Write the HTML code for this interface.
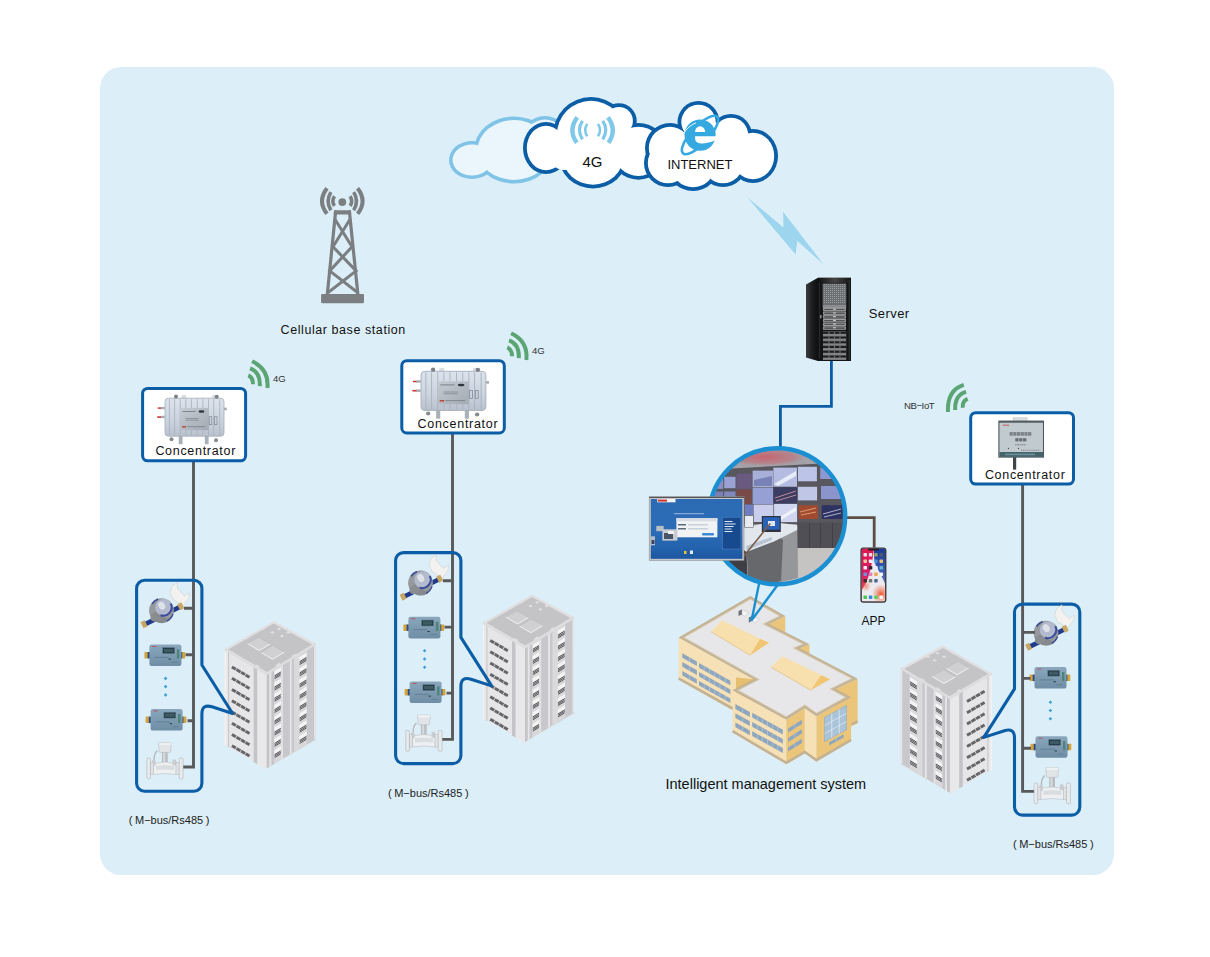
<!DOCTYPE html>
<html><head><meta charset="utf-8">
<style>
html,body{margin:0;padding:0;background:#fff;}
body{width:1210px;height:957px;overflow:hidden;position:relative;font-family:"Liberation Sans",sans-serif;}
svg{position:absolute;left:0;top:0;}
</style></head>
<body>
<svg width="1210" height="957" viewBox="0 0 1210 957" font-family="Liberation Sans, sans-serif">
<rect x="100" y="67" width="1014" height="808" rx="21" ry="21" fill="#DCEFF8"/>
<!-- light cloud -->
<g>
  <g fill="#7FC3E7">
    <ellipse cx="472" cy="160" rx="23" ry="19"/>
    <ellipse cx="514" cy="150" rx="40" ry="33.5"/>
    <ellipse cx="545" cy="141" rx="25" ry="25"/>
  </g>
  <g fill="#EAF6FC">
    <ellipse cx="472" cy="160" rx="19.4" ry="15.4"/>
    <ellipse cx="514" cy="150" rx="36.4" ry="29.9"/>
    <ellipse cx="545" cy="141" rx="21.4" ry="21.4"/>
  </g>
</g>
<!-- 4G cloud -->
<g>
  <g fill="#0B5DA6">
    <ellipse cx="546" cy="148" rx="23" ry="26"/>
    <circle cx="591" cy="135" r="38"/>
    <circle cx="619" cy="120.9" r="17.7"/>
    <circle cx="638.4" cy="151.3" r="28.4"/>
    <ellipse cx="593" cy="157" rx="34" ry="31.5"/>
    </g>
  <g fill="#FFFFFF">
    <ellipse cx="546" cy="148" rx="19.2" ry="22.2"/>
    <circle cx="591" cy="135" r="34.2"/>
    <circle cx="619" cy="120.9" r="13.9"/>
    <circle cx="638.4" cy="151.3" r="24.6"/>
    <ellipse cx="593" cy="157" rx="30.2" ry="27.7"/>
    <circle cx="615" cy="148" r="20"/>
    <circle cx="565" cy="152" r="18"/>
  </g>
  <g fill="none" stroke="#7FC8EA" stroke-linecap="butt">
    <path d="M577.3,117.3 Q567.7,130 576.8,142.7" stroke-width="4.4"/>
    <path d="M582.5,120.9 Q576.3,130 582.5,139.3" stroke-width="3.2"/>
    <path d="M587.3,123.9 Q583.1,130 587.3,136.4" stroke-width="2.5"/>
    <path d="M607.9,117.3 Q617.5,130 608.4,142.7" stroke-width="4.4"/>
    <path d="M602.7,120.9 Q608.9,130 602.7,139.3" stroke-width="3.2"/>
    <path d="M597.9,123.9 Q602.1,130 597.9,136.4" stroke-width="2.5"/>
  </g>
  <text x="592.5" y="167.4" font-size="15" text-anchor="middle" fill="#111">4G</text>
</g>
<!-- internet cloud -->
<g>
  <g fill="#0B5DA6">
    <circle cx="698.5" cy="122" r="21"/>
    <circle cx="731" cy="135" r="21"/>
    <ellipse cx="753" cy="156" rx="25" ry="27"/>
    <circle cx="670" cy="148" r="25"/>
    <circle cx="668" cy="163" r="24"/>
    <circle cx="693" cy="165" r="26"/>
    <circle cx="723" cy="163" r="24"/>
  </g>
  <g fill="#FFFFFF">
    <circle cx="698.5" cy="122" r="17.2"/>
    <circle cx="731" cy="135" r="17.2"/>
    <ellipse cx="753" cy="156" rx="21.2" ry="23.2"/>
    <circle cx="670" cy="148" r="21.2"/>
    <circle cx="668" cy="163" r="20.2"/>
    <circle cx="693" cy="165" r="22.2"/>
    <circle cx="723" cy="163" r="20.2"/>
    <circle cx="710" cy="150" r="28"/>
  </g>
  <!-- IE logo -->
  <ellipse cx="700" cy="135" rx="25" ry="8.5" transform="rotate(-47 700 135)" fill="none" stroke="#36A9E1" stroke-width="2.6"/>
  <circle cx="700.1" cy="135.1" r="15.6" fill="#36A9E1"/>
  <path d="M695,131.9 A5.1,5.6 0 0 1 705.2,131.9 Z" fill="#fff"/>
  <path d="M695.1,136.3 L716.5,136.3 L716.5,139.8 Q708,143.8 701,143.6 Q695.2,143 695.1,138.5 Z" fill="#fff"/>
  <path d="M683.5,133.6 Q688,126 696,122.8" fill="none" stroke="#fff" stroke-width="0.9"/>
  <text x="699.9" y="169.3" font-size="13" text-anchor="middle" fill="#111">INTERNET</text>
</g>
<!-- lightning -->
<polygon points="747.5,197.5 783.5,227.6 783.1,211.7 823.6,264.4 797.3,241 795.6,254.4" fill="#9DD5EE"/>
<!-- cellular tower -->
<g fill="#7C7F81" stroke="none">
  <circle cx="342.3" cy="202.1" r="3.9"/>
  <rect x="321.1" y="293.9" width="42.9" height="9.4" rx="1.2"/>
  <path d="M334.1,210.3 L350.9,210.3 L351.3,214.4 L333.7,214.4 Z"/>
</g>
<g fill="none" stroke="#7C7F81">
  <path d="M327,188.2 Q317,201.2 327,213.8" stroke-width="4"/>
  <path d="M330.9,192.1 Q325.3,201.2 330.9,210.3" stroke-width="3.6"/>
  <path d="M334.5,196.2 Q331.2,201.2 334.5,205.9" stroke-width="3.6"/>
  <path d="M357.6,188.2 Q367.6,201.2 357.6,213.8" stroke-width="4"/>
  <path d="M353.7,192.1 Q359.3,201.2 353.7,210.3" stroke-width="3.6"/>
  <path d="M350.1,196.2 Q353.4,201.2 350.1,205.9" stroke-width="3.6"/>
  <path d="M335.7,210.5 L327.3,294.5" stroke-width="3.2"/>
  <path d="M349.3,210.5 L357.9,294.5" stroke-width="3.2"/>
  <path d="M334.8,219 L352,246.8 L329.7,270.9 L358.2,293 M350.2,219 L333,246.8 L356.1,270.9 L327.5,293" stroke-width="3" stroke-linejoin="miter"/>
</g>
<text x="280.6" y="334" font-size="12.5" letter-spacing="0.57" fill="#111">Cellular base station</text>
<!-- server -->
<defs>
  <linearGradient id="srvSide" x1="0" y1="0" x2="1" y2="0">
    <stop offset="0" stop-color="#3a3d3f"/>
    <stop offset="0.5" stop-color="#1c1e1f"/>
    <stop offset="1" stop-color="#0e0f10"/>
  </linearGradient>
  <linearGradient id="srvTop" x1="0" y1="0" x2="1" y2="0">
    <stop offset="0" stop-color="#111"/>
    <stop offset="0.5" stop-color="#444"/>
    <stop offset="1" stop-color="#151515"/>
  </linearGradient>
  <pattern id="srvGrille" x="0" y="0" width="2" height="2" patternUnits="userSpaceOnUse">
    <rect width="2" height="2" fill="#6d7072"/>
    <rect width="1" height="1" fill="#9a9d9f"/>
  </pattern>
</defs>
<g>
  <path d="M806,284.6 L818,277.8 L818,361 L806,357.6 Z" fill="url(#srvSide)"/>
  <rect x="818" y="277.8" width="33" height="83.2" fill="#141516"/>
  <rect x="818" y="277.8" width="33" height="5" fill="url(#srvTop)"/>
  <rect x="822.7" y="283.6" width="23.5" height="21" fill="url(#srvGrille)"/>
  <rect x="822.7" y="304.6" width="23.5" height="3.5" fill="#8a8d90"/>
  <rect x="823.2" y="307.80" width="22.6" height="3.3" fill="#B2B3B4"/>
  <rect x="824.2" y="308.65" width="20.6" height="1.7" fill="#505254"/>
  <rect x="833" y="308.70" width="3" height="1" fill="#D0D2D4"/>
  <rect x="823.2" y="311.52" width="22.6" height="3.3" fill="#B2B3B4"/>
  <rect x="824.2" y="312.37" width="20.6" height="1.7" fill="#505254"/>
  <rect x="833" y="312.42" width="3" height="1" fill="#D0D2D4"/>
  <rect x="823.2" y="315.24" width="22.6" height="3.3" fill="#B2B3B4"/>
  <rect x="824.2" y="316.09" width="20.6" height="1.7" fill="#505254"/>
  <rect x="833" y="316.14" width="3" height="1" fill="#D0D2D4"/>
  <rect x="823.2" y="318.96" width="22.6" height="3.3" fill="#B2B3B4"/>
  <rect x="824.2" y="319.81" width="20.6" height="1.7" fill="#505254"/>
  <rect x="833" y="319.86" width="3" height="1" fill="#D0D2D4"/>
  <rect x="823.2" y="322.68" width="22.6" height="3.3" fill="#B2B3B4"/>
  <rect x="824.2" y="323.53" width="20.6" height="1.7" fill="#505254"/>
  <rect x="833" y="323.58" width="3" height="1" fill="#D0D2D4"/>
  <rect x="823.2" y="326.40" width="22.6" height="3.3" fill="#B2B3B4"/>
  <rect x="824.2" y="327.25" width="20.6" height="1.7" fill="#505254"/>
  <rect x="833" y="327.30" width="3" height="1" fill="#D0D2D4"/>
  <rect x="823" y="331.40" width="23.2" height="4.75" fill="#828486"/>
  <rect x="823" y="331.80" width="23.2" height="2" fill="#1A1B1C"/>
  <rect x="828.3" y="331.80" width="1.3" height="2" fill="#6A6C6E"/>
  <rect x="833.8" y="331.80" width="1.3" height="2" fill="#6A6C6E"/>
  <rect x="839.3" y="331.80" width="1.3" height="2" fill="#6A6C6E"/>
  <rect x="823" y="336.15" width="23.2" height="4.75" fill="#828486"/>
  <rect x="823" y="336.55" width="23.2" height="2" fill="#1A1B1C"/>
  <rect x="828.3" y="336.55" width="1.3" height="2" fill="#6A6C6E"/>
  <rect x="833.8" y="336.55" width="1.3" height="2" fill="#6A6C6E"/>
  <rect x="839.3" y="336.55" width="1.3" height="2" fill="#6A6C6E"/>
  <rect x="823" y="340.90" width="23.2" height="4.75" fill="#828486"/>
  <rect x="823" y="341.30" width="23.2" height="2" fill="#1A1B1C"/>
  <rect x="828.3" y="341.30" width="1.3" height="2" fill="#6A6C6E"/>
  <rect x="833.8" y="341.30" width="1.3" height="2" fill="#6A6C6E"/>
  <rect x="839.3" y="341.30" width="1.3" height="2" fill="#6A6C6E"/>
  <rect x="823" y="345.65" width="23.2" height="4.75" fill="#828486"/>
  <rect x="823" y="346.05" width="23.2" height="2" fill="#1A1B1C"/>
  <rect x="828.3" y="346.05" width="1.3" height="2" fill="#6A6C6E"/>
  <rect x="833.8" y="346.05" width="1.3" height="2" fill="#6A6C6E"/>
  <rect x="839.3" y="346.05" width="1.3" height="2" fill="#6A6C6E"/>
  <rect x="823" y="350.40" width="23.2" height="4.75" fill="#828486"/>
  <rect x="823" y="350.80" width="23.2" height="2" fill="#1A1B1C"/>
  <rect x="828.3" y="350.80" width="1.3" height="2" fill="#6A6C6E"/>
  <rect x="833.8" y="350.80" width="1.3" height="2" fill="#6A6C6E"/>
  <rect x="839.3" y="350.80" width="1.3" height="2" fill="#6A6C6E"/>
  <rect x="823" y="355.15" width="23.2" height="4.75" fill="#828486"/>
  <rect x="823" y="355.55" width="23.2" height="2" fill="#1A1B1C"/>
  <rect x="828.3" y="355.55" width="1.3" height="2" fill="#6A6C6E"/>
  <rect x="833.8" y="355.55" width="1.3" height="2" fill="#6A6C6E"/>
  <rect x="839.3" y="355.55" width="1.3" height="2" fill="#6A6C6E"/>
  <rect x="820" y="315" width="1.6" height="3.4" fill="#8A8C8E"/>
  <rect x="819.2" y="283" width="0.8" height="75" fill="#2C2E30"/>
  <rect x="848.5" y="280" width="1.5" height="80" fill="#2b2d2f"/>
</g>
<text x="868.8" y="318" font-size="13" letter-spacing="0.4" fill="#111">Server</text>
<!-- blue line server->circle -->
<path d="M831.4,361 L831.4,406.3 L780.4,406.3 L780.4,448" fill="none" stroke="#0B5DA6" stroke-width="2.8"/>
<defs>
  <linearGradient id="cbody" x1="0" y1="0" x2="0" y2="1">
    <stop offset="0" stop-color="#DCE3EC"/>
    <stop offset="0.6" stop-color="#CAD3DE"/>
    <stop offset="1" stop-color="#B8C1CD"/>
  </linearGradient>
  <linearGradient id="cpanel" x1="0" y1="0" x2="1" y2="1">
    <stop offset="0" stop-color="#C6CCD3"/>
    <stop offset="1" stop-color="#A2AAB3"/>
  </linearGradient>
  <g id="concA">
    <rect x="16.6" y="-3.3" width="4.5" height="4" fill="#D7DDE3"/>
    <rect x="47.3" y="-3.3" width="4.2" height="4" fill="#D7DDE3"/>
    <rect x="13.7" y="36" width="3.8" height="10" fill="#A9B0B8"/>
    <rect x="39.8" y="36" width="3.8" height="10" fill="#A9B0B8"/>
    <circle cx="6.5" cy="41" r="2" fill="#868C93"/>
    <circle cx="51" cy="42" r="2" fill="#868C93"/>
    <rect x="0" y="0" width="59" height="38" rx="3.5" fill="url(#cbody)" stroke="#A3ACB7" stroke-width="0.8"/>
    <g stroke="#A7B0BB" stroke-width="0.8">
      <path d="M4.4,1 V37 M9.6,1 V37 M15.2,1 V37 M20.8,1 V10 M26.4,1 V10 M32.3,1 V10 M37.9,1 V10 M43.5,1 V37 M48.7,1 V37 M54.7,1 V37 M20.8,32 V37 M26.4,32 V37 M32.3,32 V37 M37.9,32 V37"/>
    </g>
    <rect x="15.2" y="9.7" width="28.3" height="22.3" fill="url(#cpanel)"/>
    <rect x="17.5" y="12.8" width="13" height="0.8" fill="#4E555D" opacity="0.7"/>
    <ellipse cx="36.5" cy="13.3" rx="3" ry="1.3" fill="#2E3440"/>
    <rect x="20.5" y="19.8" width="13" height="0.6" fill="#5A6068" opacity="0.7"/>
    <rect x="20.5" y="21.6" width="13" height="0.6" fill="#5A6068" opacity="0.7"/>
    <rect x="17" y="28" width="4" height="1.3" fill="#C0392B"/>
    <rect x="22" y="28.2" width="18" height="0.7" fill="#5A6068" opacity="0.7"/>
    <rect x="44.2" y="18.5" width="2.6" height="8" fill="none" stroke="#7E8791" stroke-width="0.7"/>
    <rect x="49.4" y="18.5" width="2.6" height="8" fill="none" stroke="#7E8791" stroke-width="0.7"/>
    <circle cx="11" cy="-1.6" r="2" fill="#7A8088"/>
    <circle cx="51.7" cy="-1.4" r="2" fill="#7A8088"/>
    <rect x="-4.2" y="8.7" width="4" height="2.4" fill="#A6ADB5"/>
    <rect x="-4.2" y="17.6" width="4" height="2.4" fill="#A6ADB5"/>
    <rect x="-7.3" y="9.2" width="3.3" height="1.4" fill="#D42A2A"/>
    <rect x="-7.8" y="18.1" width="3.8" height="1.5" fill="#D42A2A"/>
    <rect x="59" y="9.5" width="2.8" height="2.5" fill="#A6ADB5"/>
  </g>
  <g id="sig">
    <g fill="none" stroke="#5AA573" stroke-width="4">
      <path d="M252.1,361.3 Q269.25,369.35 267.4,388"/>
      <path d="M250,368.4 Q260.25,371.75 259.9,386.1"/>
      <path d="M248.2,375.5 Q253,377.1 253,384.3"/>
    </g>
    <text x="273" y="381.9" font-size="9.6" fill="#333">4G</text>
  </g>
</defs>
<!-- gray bus lines -->
<g fill="none" stroke="#58595B" stroke-width="2.9">
  <path d="M193.5,461 V767 H183"/>
  <path d="M452.5,433 V739.4 H442"/>
  <path d="M1022.6,484 V791.4 H1035"/>
</g>
<!-- concentrator boxes -->
<g fill="#fff" stroke="#0B5DA6" stroke-width="3">
  <rect x="142.6" y="388.4" width="103" height="72.4" rx="5"/>
  <rect x="401.8" y="360.7" width="102.5" height="72.3" rx="5"/>
  <rect x="970.7" y="412.7" width="102.8" height="71.4" rx="5"/>
</g>
<use href="#concA" transform="translate(165,398.2)"/>
<use href="#concA" transform="translate(421,371.3) scale(1.1,1.03)"/>
<!-- concentrator B -->
<g>
  <rect x="1013.2" y="417.8" width="13.9" height="3.4" fill="#DADEE0" stroke="#B8BDC0" stroke-width="0.5"/>
  <rect x="1013" y="457" width="3.2" height="12.6" fill="#3D4549"/>
  <rect x="998.9" y="421.1" width="44.6" height="36" fill="#C1CACE" stroke="#4F595E" stroke-width="1.1"/>
  <rect x="998.9" y="421.1" width="44.6" height="1.6" fill="#4F5A5F"/>
  <rect x="999.4" y="452" width="43.6" height="4.9" fill="#46626A"/>
  <rect x="1005" y="453.6" width="30" height="1.6" fill="#6A9098"/>
  <rect x="1002.8" y="424.6" width="6.3" height="1.3" fill="#C86060" opacity="0.8"/>
  <circle cx="1008.5" cy="448.3" r="0.6" fill="#333"/>
  <circle cx="1018.5" cy="448.3" r="0.6" fill="#333"/>
  <rect x="1009.6" y="432.1" width="3.2" height="3.6" fill="#6E767C" opacity="0.85"/>
  <rect x="1013.3" y="432.1" width="3.2" height="3.6" fill="#6E767C" opacity="0.85"/>
  <rect x="1017.0" y="432.1" width="3.2" height="3.6" fill="#6E767C" opacity="0.85"/>
  <rect x="1020.7" y="432.1" width="3.2" height="3.6" fill="#6E767C" opacity="0.85"/>
  <rect x="1024.4" y="432.1" width="3.2" height="3.6" fill="#6E767C" opacity="0.85"/>
  <rect x="1028.1" y="432.1" width="3.2" height="3.6" fill="#6E767C" opacity="0.85"/>
  <rect x="1015.3" y="438.2" width="3.3" height="3.2" fill="#5E666C" opacity="0.9"/>
  <rect x="1019.2" y="438.2" width="3.3" height="3.2" fill="#5E666C" opacity="0.9"/>
  <rect x="1023.1" y="438.2" width="3.3" height="3.2" fill="#5E666C" opacity="0.9"/>
  <rect x="1015.2" y="444" width="1.6" height="1.3" fill="#7A8288" opacity="0.8"/>
  <rect x="1017.4" y="444" width="1.6" height="1.3" fill="#7A8288" opacity="0.8"/>
  <rect x="1019.6" y="444" width="1.6" height="1.3" fill="#7A8288" opacity="0.8"/>
  <rect x="1021.8" y="444" width="1.6" height="1.3" fill="#7A8288" opacity="0.8"/>
  <rect x="1024.0" y="444" width="1.6" height="1.3" fill="#7A8288" opacity="0.8"/>
  <rect x="1021.0" y="449.8" width="1.1" height="0.8" fill="#6A7278"/>
  <rect x="1022.9" y="449.8" width="1.1" height="0.8" fill="#6A7278"/>
  <rect x="1024.8" y="449.8" width="1.1" height="0.8" fill="#6A7278"/>
  <rect x="1026.7" y="449.8" width="1.1" height="0.8" fill="#6A7278"/>
  <rect x="1028.6" y="449.8" width="1.1" height="0.8" fill="#6A7278"/>
  <rect x="1030.5" y="449.8" width="1.1" height="0.8" fill="#6A7278"/>
  <rect x="1032.4" y="449.8" width="1.1" height="0.8" fill="#6A7278"/>
  <rect x="1034.3" y="449.8" width="1.1" height="0.8" fill="#6A7278"/>
  <rect x="1036.2" y="449.8" width="1.1" height="0.8" fill="#6A7278"/>
  <rect x="1038.1" y="449.8" width="1.1" height="0.8" fill="#6A7278"/>
</g>
<g font-size="12.5" letter-spacing="0.7" fill="#111">
  <text x="155.4" y="455">Concentrator</text>
  <text x="417.6" y="428.1">Concentrator</text>
  <text x="984.9" y="479.2">Concentrator</text>
</g>
<use href="#sig"/>
<use href="#sig" transform="translate(259,-28)"/>
<!-- NB-IoT signal -->
<g fill="none" stroke="#5AA573" stroke-width="4">
  <path d="M963.8,384.9 Q947,390 947.9,412"/>
  <path d="M966.1,391.9 Q954.5,395 955.2,410"/>
  <path d="M967.7,398.8 Q962,401 962.8,407.7"/>
</g>
<text x="903.9" y="409.4" font-size="9.6" letter-spacing="-0.4" fill="#333">NB&#8722;IoT</text>
<defs>
<g id="tower">
<polygon points="482.8,622.4 525.0,647.0 525.0,741.9 482.8,718.6" fill="#E6E6E8"/>
<polygon points="525.0,647.0 574.1,617.1 574.1,713.4 525.0,741.9" fill="#D6D6D9"/>
<polygon points="482.8,622.4 484.5,623.4 484.5,719.6 482.8,718.6" fill="#F2F2F3"/>
<polygon points="484.5,623.4 486.3,624.4 486.3,720.6 484.5,719.6" fill="#E8E8EA"/>
<polygon points="486.3,624.4 487.5,625.1 487.5,721.3 486.3,720.6" fill="#CACACE"/>
<polygon points="512.0,639.4 515.7,641.6 515.7,737.8 512.0,735.6" fill="#C4C4C8"/>
<polygon points="515.7,641.6 525.0,647.0 525.0,743.2 515.7,737.8" fill="#E8E8EA"/>
<polygon points="525.0,647.0 527.8,645.3 527.8,740.2 525.0,741.9" fill="#C4C4C8"/>
<polygon points="527.8,645.3 529.7,644.1 529.7,739.0 527.8,740.2" fill="#E6E6E8"/>
<polygon points="529.7,644.1 532.5,642.4 532.5,737.3 529.7,739.0" fill="#C6C6CA"/>
<polygon points="532.5,642.4 539.4,638.2 539.4,733.1 532.5,737.3" fill="#D8D8DB"/>
<polygon points="539.4,638.2 541.3,637.1 541.3,732.0 539.4,733.1" fill="#E2E2E4"/>
<polygon points="541.3,637.1 548.2,632.9 548.2,727.8 541.3,732.0" fill="#C8C8CC"/>
<polygon points="548.2,632.9 550.0,631.8 550.0,726.7 548.2,727.8" fill="#E6E6E8"/>
<polygon points="550.0,631.8 552.6,630.2 552.6,725.1 550.0,726.7" fill="#C8C8CC"/>
<polygon points="552.6,630.2 557.6,627.1 557.6,722.0 552.6,725.1" fill="#DADADC"/>
<polygon points="557.6,627.1 565.1,622.6 565.1,717.5 557.6,722.0" fill="#D8D8DB"/>
<polygon points="565.1,622.6 572.6,618.0 572.6,712.9 565.1,717.5" fill="#C8C8CC"/>
<polygon points="572.6,618.0 574.1,617.1 574.1,712.0 572.6,712.9" fill="#E6E6E8"/>
<line x1="490.2" y1="640.4" x2="507.8" y2="650.7" stroke="#66666A" stroke-width="2.9" stroke-dasharray="4.6 0.7"/>
<line x1="490.2" y1="651.7" x2="507.8" y2="661.9" stroke="#66666A" stroke-width="2.9" stroke-dasharray="4.6 0.7"/>
<line x1="490.2" y1="662.9" x2="507.8" y2="673.2" stroke="#66666A" stroke-width="2.9" stroke-dasharray="4.6 0.7"/>
<line x1="490.2" y1="674.2" x2="507.8" y2="684.5" stroke="#66666A" stroke-width="2.9" stroke-dasharray="4.6 0.7"/>
<line x1="490.2" y1="685.5" x2="507.8" y2="695.7" stroke="#66666A" stroke-width="2.9" stroke-dasharray="4.6 0.7"/>
<line x1="490.2" y1="696.8" x2="507.8" y2="707.0" stroke="#66666A" stroke-width="2.9" stroke-dasharray="4.6 0.7"/>
<line x1="490.2" y1="708.0" x2="507.8" y2="718.3" stroke="#66666A" stroke-width="2.9" stroke-dasharray="4.6 0.7"/>
<line x1="490.2" y1="719.3" x2="507.8" y2="729.5" stroke="#66666A" stroke-width="2.9" stroke-dasharray="4.6 0.7"/>
<polygon points="532.6,644.8 539.3,640.7 539.3,644.5 532.6,648.6" fill="#F4F4F4"/>
<line x1="532.9" y1="649.3" x2="539.0" y2="645.6" stroke="#505054" stroke-width="0.95"/>
<line x1="532.9" y1="650.8" x2="539.0" y2="647.0" stroke="#505054" stroke-width="0.95"/>
<line x1="532.9" y1="652.2" x2="539.0" y2="648.5" stroke="#505054" stroke-width="0.95"/>
<polygon points="532.6,656.1 539.3,652.0 539.3,655.8 532.6,659.9" fill="#F4F4F4"/>
<line x1="532.9" y1="660.6" x2="539.0" y2="656.9" stroke="#505054" stroke-width="0.95"/>
<line x1="532.9" y1="662.0" x2="539.0" y2="658.3" stroke="#505054" stroke-width="0.95"/>
<line x1="532.9" y1="663.5" x2="539.0" y2="659.8" stroke="#505054" stroke-width="0.95"/>
<polygon points="532.6,667.3 539.3,663.3 539.3,667.1 532.6,671.1" fill="#F4F4F4"/>
<line x1="532.9" y1="671.8" x2="539.0" y2="668.1" stroke="#505054" stroke-width="0.95"/>
<line x1="532.9" y1="673.3" x2="539.0" y2="669.6" stroke="#505054" stroke-width="0.95"/>
<line x1="532.9" y1="674.7" x2="539.0" y2="671.0" stroke="#505054" stroke-width="0.95"/>
<polygon points="532.6,678.6 539.3,674.5 539.3,678.3 532.6,682.4" fill="#F4F4F4"/>
<line x1="532.9" y1="683.1" x2="539.0" y2="679.4" stroke="#505054" stroke-width="0.95"/>
<line x1="532.9" y1="684.6" x2="539.0" y2="680.8" stroke="#505054" stroke-width="0.95"/>
<line x1="532.9" y1="686.0" x2="539.0" y2="682.3" stroke="#505054" stroke-width="0.95"/>
<polygon points="532.6,689.9 539.3,685.8 539.3,689.6 532.6,693.7" fill="#F4F4F4"/>
<line x1="532.9" y1="694.4" x2="539.0" y2="690.7" stroke="#505054" stroke-width="0.95"/>
<line x1="532.9" y1="695.8" x2="539.0" y2="692.1" stroke="#505054" stroke-width="0.95"/>
<line x1="532.9" y1="697.3" x2="539.0" y2="693.6" stroke="#505054" stroke-width="0.95"/>
<polygon points="532.6,701.1 539.3,697.1 539.3,700.9 532.6,705.0" fill="#F4F4F4"/>
<line x1="532.9" y1="705.6" x2="539.0" y2="701.9" stroke="#505054" stroke-width="0.95"/>
<line x1="532.9" y1="707.1" x2="539.0" y2="703.4" stroke="#505054" stroke-width="0.95"/>
<line x1="532.9" y1="708.5" x2="539.0" y2="704.8" stroke="#505054" stroke-width="0.95"/>
<polygon points="532.6,712.4 539.3,708.3 539.3,712.1 532.6,716.2" fill="#F4F4F4"/>
<line x1="532.9" y1="716.9" x2="539.0" y2="713.2" stroke="#505054" stroke-width="0.95"/>
<line x1="532.9" y1="718.4" x2="539.0" y2="714.7" stroke="#505054" stroke-width="0.95"/>
<line x1="532.9" y1="719.8" x2="539.0" y2="716.1" stroke="#505054" stroke-width="0.95"/>
<polygon points="532.6,723.7 539.3,719.6 539.3,723.4 532.6,727.5" fill="#F4F4F4"/>
<line x1="532.9" y1="728.2" x2="539.0" y2="724.5" stroke="#505054" stroke-width="0.95"/>
<line x1="532.9" y1="729.6" x2="539.0" y2="725.9" stroke="#505054" stroke-width="0.95"/>
<line x1="532.9" y1="731.1" x2="539.0" y2="727.4" stroke="#505054" stroke-width="0.95"/>
<polygon points="557.7,630.6 565.0,626.2 565.0,630.0 557.7,634.4" fill="#F4F4F4"/>
<line x1="558.0" y1="635.1" x2="564.7" y2="631.0" stroke="#505054" stroke-width="0.95"/>
<line x1="558.0" y1="636.6" x2="564.7" y2="632.5" stroke="#505054" stroke-width="0.95"/>
<line x1="558.0" y1="638.0" x2="564.7" y2="633.9" stroke="#505054" stroke-width="0.95"/>
<polygon points="557.7,641.9 565.0,637.4 565.0,641.2 557.7,645.7" fill="#F4F4F4"/>
<line x1="558.0" y1="646.4" x2="564.7" y2="642.3" stroke="#505054" stroke-width="0.95"/>
<line x1="558.0" y1="647.8" x2="564.7" y2="643.7" stroke="#505054" stroke-width="0.95"/>
<line x1="558.0" y1="649.3" x2="564.7" y2="645.2" stroke="#505054" stroke-width="0.95"/>
<polygon points="557.7,653.1 565.0,648.7 565.0,652.5 557.7,656.9" fill="#F4F4F4"/>
<line x1="558.0" y1="657.6" x2="564.7" y2="653.6" stroke="#505054" stroke-width="0.95"/>
<line x1="558.0" y1="659.1" x2="564.7" y2="655.0" stroke="#505054" stroke-width="0.95"/>
<line x1="558.0" y1="660.5" x2="564.7" y2="656.5" stroke="#505054" stroke-width="0.95"/>
<polygon points="557.7,664.4 565.0,660.0 565.0,663.8 557.7,668.2" fill="#F4F4F4"/>
<line x1="558.0" y1="668.9" x2="564.7" y2="664.8" stroke="#505054" stroke-width="0.95"/>
<line x1="558.0" y1="670.4" x2="564.7" y2="666.3" stroke="#505054" stroke-width="0.95"/>
<line x1="558.0" y1="671.8" x2="564.7" y2="667.7" stroke="#505054" stroke-width="0.95"/>
<polygon points="557.7,675.7 565.0,671.2 565.0,675.0 557.7,679.5" fill="#F4F4F4"/>
<line x1="558.0" y1="680.2" x2="564.7" y2="676.1" stroke="#505054" stroke-width="0.95"/>
<line x1="558.0" y1="681.6" x2="564.7" y2="677.5" stroke="#505054" stroke-width="0.95"/>
<line x1="558.0" y1="683.1" x2="564.7" y2="679.0" stroke="#505054" stroke-width="0.95"/>
<polygon points="557.7,687.0 565.0,682.5 565.0,686.3 557.7,690.8" fill="#F4F4F4"/>
<line x1="558.0" y1="691.5" x2="564.7" y2="687.4" stroke="#505054" stroke-width="0.95"/>
<line x1="558.0" y1="692.9" x2="564.7" y2="688.8" stroke="#505054" stroke-width="0.95"/>
<line x1="558.0" y1="694.4" x2="564.7" y2="690.3" stroke="#505054" stroke-width="0.95"/>
<polygon points="557.7,698.2 565.0,693.8 565.0,697.6 557.7,702.0" fill="#F4F4F4"/>
<line x1="558.0" y1="702.7" x2="564.7" y2="698.6" stroke="#505054" stroke-width="0.95"/>
<line x1="558.0" y1="704.2" x2="564.7" y2="700.1" stroke="#505054" stroke-width="0.95"/>
<line x1="558.0" y1="705.6" x2="564.7" y2="701.5" stroke="#505054" stroke-width="0.95"/>
<polygon points="557.7,709.5 565.0,705.0 565.0,708.8 557.7,713.3" fill="#F4F4F4"/>
<line x1="558.0" y1="714.0" x2="564.7" y2="709.9" stroke="#505054" stroke-width="0.95"/>
<line x1="558.0" y1="715.4" x2="564.7" y2="711.4" stroke="#505054" stroke-width="0.95"/>
<line x1="558.0" y1="716.9" x2="564.7" y2="712.8" stroke="#505054" stroke-width="0.95"/>
<polygon points="532.2,594.4 574.1,617.1 525.0,647.0 482.8,622.4" fill="#E0E0E2"/>
<polygon points="531.9,597.1 570.5,618.0 525.3,645.5 486.5,622.9" fill="#C4C4C6"/>
<polygon points="523.3,599.4 519.4,601.7 520.0,604.2 523.9,602.0" fill="#E0E0E2"/>
<polygon points="505.0,609.8 501.1,612.0 503.4,613.1 507.4,610.9" fill="#E0E0E2"/>
<polygon points="487.9,625.4 491.2,627.3 493.8,627.0 490.4,625.1" fill="#E0E0E2"/>
<polygon points="513.2,640.1 516.6,642.1 518.2,640.0 514.8,638.1" fill="#E0E0E2"/>
<polygon points="534.8,641.0 538.7,638.6 538.0,636.1 534.1,638.5" fill="#E0E0E2"/>
<polygon points="552.0,630.6 555.9,628.2 553.5,627.2 549.6,629.5" fill="#E0E0E2"/>
<polyline points="482.8,623.0 525,647.6 574.1,617.7" fill="none" stroke="#DCDCDE" stroke-width="1.8"/>
<polygon points="505.8,617 517.5,624 528.6,617.5 516.9,610.5" fill="#D0D0D3"/>
<polyline points="505.8,617 517.5,624 528.6,617.5" fill="none" stroke="#F2F2F4" stroke-width="1"/>
<polyline points="505.8,617 516.9,610.5 528.6,617.5" fill="none" stroke="#B8B8BC" stroke-width="0.6"/>
<polygon points="519.3,626 531,632.7 542.9,625.5 531.2,618.8" fill="#D0D0D3"/>
<polyline points="519.3,626 531,632.7 542.9,625.5" fill="none" stroke="#F2F2F4" stroke-width="1"/>
<polyline points="519.3,626 531.2,618.8 542.9,625.5" fill="none" stroke="#B8B8BC" stroke-width="0.6"/>
<polygon points="528.5,606.0 530.7,607.3 533.0,606.0 530.7,604.6" fill="#E0E0E2"/>
<polygon points="535.0,602.5 537.2,603.8 539.5,602.5 537.2,601.1" fill="#E0E0E2"/>
<polygon points="538.0,609.5 540.2,610.8 542.5,609.5 540.2,608.1" fill="#E0E0E2"/>
<polygon points="544.5,606.0 546.7,607.3 549.0,606.0 546.7,604.6" fill="#E0E0E2"/>
</g>
</defs>
<use href="#tower"/>
<use href="#tower" transform="translate(-258.3,26.5)"/>
<use href="#tower" transform="translate(1474.8,50.8) scale(-1,1)"/>
<defs>
  <linearGradient id="usBody" x1="0" y1="0" x2="0" y2="1">
    <stop offset="0" stop-color="#8AA7BD"/>
    <stop offset="1" stop-color="#6F8DA4"/>
  </linearGradient>
  <linearGradient id="valveG" x1="0" y1="0" x2="0" y2="1">
    <stop offset="0" stop-color="#F2F3F4"/>
    <stop offset="0.5" stop-color="#D9DCDF"/>
    <stop offset="1" stop-color="#EEF0F1"/>
  </linearGradient>
  <radialGradient id="dialG" cx="0.45" cy="0.4" r="0.6">
    <stop offset="0" stop-color="#E8ECF4"/>
    <stop offset="0.6" stop-color="#AEB6CC"/>
    <stop offset="1" stop-color="#6F7894"/>
  </radialGradient>
  <g id="waterMeter">
    <path d="M171.9,586.5 L177.5,582.3 L177.2,588 L184.3,596 L189.6,592.8 L189,598 L185,603.5 L182.8,605.3 L173,599.2 L170.2,592.7 Z" fill="#F3F2F0" stroke="#C9C9C9" stroke-width="0.5"/>
    <path d="M144.3,624.6 L181.2,606.3" stroke="#1F3A8C" stroke-width="4.6" fill="none"/>
    <rect x="141.8" y="621" width="4.6" height="6.6" fill="#C8A664" transform="rotate(-27 144 624.3)"/>
    <rect x="178.4" y="603" width="4.6" height="6.6" fill="#C8A664" transform="rotate(-27 180.7 606.3)"/>
    <ellipse cx="161.5" cy="610.4" rx="12.4" ry="12.2" fill="#96999D"/>
    <path d="M150,615 A12.4,12.2 0 0 0 170,620 L162,616 Z" fill="#85888C"/>
    <ellipse cx="156.5" cy="616.5" rx="6.5" ry="4.5" fill="#8A8D90" transform="rotate(-30 156.5 616.5)"/>
    <path d="M152,604 A12.4,12.2 0 0 1 158,599" fill="none" stroke="#3C4E98" stroke-width="1.6"/>
    <path d="M167,621 A12.4,12.2 0 0 0 173,614" fill="none" stroke="#3C4E98" stroke-width="1.4"/>
    <circle cx="163.6" cy="607.4" r="8.4" fill="#B4BACE"/>
    <path d="M170.8,603.6 A8.4,8.4 0 0 1 160.5,615.2" fill="none" stroke="#3A4C9C" stroke-width="2"/>
    <ellipse cx="161.8" cy="605.6" rx="3.2" ry="4.2" fill="#DDE1E8" transform="rotate(-30 161.8 605.6)"/>
  </g>
  <g id="usMeter">
    <rect x="-5" y="7.6" width="4" height="6.5" rx="0.8" fill="#D2A43A"/>
    <rect x="-1.8" y="7.6" width="2.4" height="6.5" fill="#2C4A86"/>
    <rect x="32" y="7.6" width="3.8" height="6.5" rx="0.8" fill="#D2A43A"/>
    <rect x="31.3" y="7.6" width="1.5" height="6.5" fill="#2C4A86"/>
    <rect x="0" y="0" width="32" height="21.6" rx="2.2" fill="url(#usBody)"/>
    <rect x="13.3" y="3.3" width="11.8" height="5.8" fill="#223C46" stroke="#5D7585" stroke-width="0.5"/>
    <rect x="14.5" y="4.5" width="9.4" height="3.4" fill="#3E5A62"/>
    <rect x="27.5" y="5" width="2.4" height="9" fill="#4D8478"/>
    <rect x="3" y="1.6" width="4" height="0.8" fill="#C84040"/>
    <rect x="5" y="12.5" width="14" height="0.8" fill="#5E788A"/>
    <rect x="19" y="14.2" width="2.4" height="1" fill="#2A3B44"/>
    <rect x="22" y="17.5" width="6" height="0.7" fill="#5E788A"/>
  </g>
  <g id="valveMeter">
    <path d="M157.4,750.5 Q153.5,754 154.2,761.5" stroke="#B4B8BC" stroke-width="1.3" fill="none"/>
    <rect x="161.9" y="751.5" width="5.8" height="12" fill="#BABEC2"/>
    <rect x="163.2" y="751.5" width="2" height="12" fill="#D8DBDE"/>
    <path d="M158.6,743.6 Q158.3,742.6 159.5,742.6 L170.2,742.6 Q171.4,742.6 171.2,743.8 L170.6,751.4 Q170.4,752.4 169.3,752.4 L160.3,752.4 Q159.2,752.4 159.1,751.4 Z" fill="#E2E5E8" stroke="#AEB3B8" stroke-width="0.5"/>
    <rect x="159.2" y="742.7" width="11.8" height="2.4" fill="#EEF0F2"/>
    <path d="M153.4,763.4 Q165,760.8 176.2,763.4 L176.2,774.6 Q165,772.6 153.4,774.6 Z" fill="#EDEFF1" stroke="#B3B7BB" stroke-width="0.5"/>
    <path d="M156,766 Q165,764.5 174,766 L174,770 Q165,769 156,770 Z" fill="#DADDE0"/>
    <rect x="152" y="760" width="3.6" height="6" rx="1" fill="#C9CDD1"/>
    <rect x="172.5" y="759.4" width="3.6" height="6" rx="1" fill="#C9CDD1"/>
    <rect x="150.3" y="762.2" width="3.3" height="12.5" fill="#E0E3E6" stroke="#A9AEB3" stroke-width="0.4"/>
    <rect x="176" y="762.2" width="3.3" height="12.5" fill="#E0E3E6" stroke="#A9AEB3" stroke-width="0.4"/>
    <rect x="146.8" y="758" width="3.6" height="20.9" rx="1.2" fill="#E8EAEC" stroke="#A4A9AE" stroke-width="0.5"/>
    <rect x="179.2" y="758" width="3.9" height="20.9" rx="1.2" fill="#E8EAEC" stroke="#A4A9AE" stroke-width="0.5"/>
  </g>
  <g id="panelMeters">
    <use href="#waterMeter"/>
    <use href="#usMeter" transform="translate(149.4,644.4)"/>
    <use href="#usMeter" transform="translate(150.6,709)"/>
    <use href="#valveMeter"/>
    <g fill="#3AA0D8">
      <path d="M165.6,676.6 l1.8,1.8 l-1.8,1.8 l-1.8,-1.8 z"/>
      <path d="M165.6,684.8 l1.8,1.8 l-1.8,1.8 l-1.8,-1.8 z"/>
      <path d="M165.6,693.1 l1.8,1.8 l-1.8,1.8 l-1.8,-1.8 z"/>
    </g>
  </g>
  <g id="panel1Branches" stroke="#58595B" stroke-width="2.9" fill="none">
    <path d="M184,608.3 H193.5 M185.5,654.7 H193.5 M187.5,720.7 H193.5"/>
  </g>
</defs>
<!-- panel outlines -->
<g fill="none" stroke="#0B5DA6" stroke-width="3.1" stroke-linejoin="round">
  <path id="callout1" d="M144.6,580.2 H193.9 A8,8 0 0 1 201.9,588.2 V665 L232.6,713.5 L212,706.8 Q201.9,703.8 201.9,714 V783.2 A8,8 0 0 1 193.9,791.2 H144.6 A8,8 0 0 1 136.6,783.2 V588.2 A8,8 0 0 1 144.6,580.2 Z"/>
  <use href="#callout1" transform="translate(259,-27.6)"/>
  <use href="#callout1" transform="translate(1216.4,23.9) scale(-1,1)"/>
</g>
<use href="#panelMeters"/>
<use href="#panel1Branches"/>
<use href="#panelMeters" transform="translate(259,-27.6)"/>
<use href="#panel1Branches" transform="translate(259,-27.6)"/>
<use href="#waterMeter" transform="translate(884.5,22.5)"/>
<use href="#usMeter" transform="translate(1034.5,667)"/>
<use href="#usMeter" transform="translate(1035.5,736.2)"/>
<use href="#valveMeter" transform="translate(887.3,24.9)"/>
<g fill="#3AA0D8">
  <path d="M1050.4,700.5 l1.8,1.8 l-1.8,1.8 l-1.8,-1.8 z"/>
  <path d="M1050.4,708.7 l1.8,1.8 l-1.8,1.8 l-1.8,-1.8 z"/>
  <path d="M1050.4,717 l1.8,1.8 l-1.8,1.8 l-1.8,-1.8 z"/>
</g>
<g stroke="#58595B" stroke-width="2.9" fill="none">
  <path d="M1022.6,632.4 H1035 M1022.6,678.4 H1030.5 M1022.6,748.2 H1031"/>
</g>
<defs>
  <clipPath id="circClip"><circle cx="777.2" cy="516.3" r="67"/></clipPath>
  <radialGradient id="redGlow" cx="0.5" cy="0.5" r="0.5">
    <stop offset="0" stop-color="#C8606C" stop-opacity="0.95"/>
    <stop offset="0.7" stop-color="#C07078" stop-opacity="0.6"/>
    <stop offset="1" stop-color="#B08088" stop-opacity="0"/>
  </radialGradient>
  <linearGradient id="floorG" x1="0" y1="0" x2="0" y2="1">
    <stop offset="0" stop-color="#A9AAAD"/>
    <stop offset="1" stop-color="#D0D0D2"/>
  </linearGradient>
  <linearGradient id="scrG" x1="0" y1="0" x2="0" y2="1">
    <stop offset="0" stop-color="#2C6AB4"/>
    <stop offset="0.5" stop-color="#2C6CB6"/>
    <stop offset="0.8" stop-color="#2464AE"/>
    <stop offset="1" stop-color="#1C56A0"/>
  </linearGradient>
  <linearGradient id="vidG" x1="0" y1="0" x2="1" y2="1">
    <stop offset="0" stop-color="#8C9CD0"/>
    <stop offset="0.5" stop-color="#5A6AA8"/>
    <stop offset="1" stop-color="#C8D0F0"/>
  </linearGradient>
  <linearGradient id="phoneG" x1="0" y1="0" x2="1" y2="1">
    <stop offset="0" stop-color="#E0245E"/>
    <stop offset="0.35" stop-color="#C02070"/>
    <stop offset="0.55" stop-color="#E8E4EC"/>
    <stop offset="0.8" stop-color="#F08060"/>
    <stop offset="1" stop-color="#E05030"/>
  </linearGradient>
  <linearGradient id="phoneB" x1="1" y1="0" x2="0" y2="1">
    <stop offset="0" stop-color="#1C3C9C"/>
    <stop offset="0.45" stop-color="#3050B0" stop-opacity="0.6"/>
    <stop offset="0.7" stop-color="#ffffff" stop-opacity="0"/>
  </linearGradient>
</defs>
<!-- brown line circle -> phone -->
<path d="M846,517.6 H874.2 V547.5" fill="none" stroke="#5C4E45" stroke-width="2.8"/>
<!-- control room photo -->
<g clip-path="url(#circClip)">
  <rect x="705" y="444" width="145" height="145" fill="#8E8E92"/>
  <rect x="705" y="444" width="145" height="26" fill="#A4A2A8"/>
  <ellipse cx="765" cy="457" rx="42" ry="9" fill="url(#redGlow)"/>
  <path d="M705,470 L850,462 L850,524 L705,524 Z" fill="#57575D"/>
  <g>
    <rect x="714.2" y="478.3" width="9" height="10.6" fill="#8A90C4"/>
    <rect x="724.2" y="476.8" width="11.3" height="11.4" fill="#9AA2D4"/>
    <rect x="736.5" y="473.7" width="15.2" height="15.2" fill="#6A5A80"/>
    <rect x="752.6" y="470.6" width="20.6" height="16.8" fill="#A8B0DA"/>
    <path d="M754,480 L772,476 L772,486 L754,486 Z" fill="#5A64A0" opacity="0.6"/>
    <rect x="773.4" y="467.6" width="23.6" height="19.1" fill="#B4BCE2"/>
    <path d="M774,484 L796,471 L796,476 L778,486 Z" fill="#E8ECF8"/>
    <rect x="797.9" y="466.8" width="19" height="14.5" fill="#BCC4E8"/>
    <rect x="820.2" y="467.6" width="16.8" height="11.4" fill="#8E98D0"/>
    <rect x="714.2" y="491.5" width="9" height="5.5" fill="#7A80B4"/>
    <rect x="724.2" y="491.5" width="11.3" height="7" fill="#8088BC"/>
    <rect x="736.5" y="489.5" width="15.2" height="14.6" fill="#7A4A48"/>
    <rect x="752.6" y="488" width="20.6" height="16.2" fill="#96A0D4"/>
    <rect x="773.4" y="487.2" width="23.6" height="16.4" fill="#3A3C60"/>
    <path d="M775,498 L796,491 M776,501 L796,495" stroke="#E0A0A8" stroke-width="0.8"/>
    <rect x="797.9" y="486.8" width="19.2" height="13.6" fill="#C0C6E6"/>
    <rect x="821" y="486" width="20.6" height="13" fill="#8C94CC"/>
    <rect x="745" y="504.6" width="8.2" height="10.6" fill="#6E7EC0"/>
    <rect x="753.6" y="504.6" width="19.8" height="17.4" fill="#C8CEEC"/>
    <rect x="774.1" y="503.9" width="23" height="18.2" fill="#D0D6F0"/>
    <path d="M775,520 L796,507 L796,511 L779,521 Z" fill="#F0F2FA"/>
    <rect x="798.7" y="505.2" width="19.2" height="13.8" fill="#A04A30"/>
    <path d="M800,512 L816,508 M801,515 L816,512" stroke="#F0B080" stroke-width="0.8"/>
    <rect x="821.7" y="505.2" width="20.8" height="13.8" fill="#2E3262"/>
    <path d="M823,514 L841,509 M824,517 L841,513" stroke="#E8E8F4" stroke-width="0.7"/>
  </g>
  <rect x="797" y="522.5" width="53" height="27" fill="#4F4F55"/>
  <path d="M809.5,523 V548 M820.5,523 V548 M832.5,523 V548" stroke="#3C3C42" stroke-width="0.8"/>
  <path d="M705,548 L850,548 L850,590 L705,590 Z" fill="#C6C4C2"/>
  <path d="M705,545 L746,540 L748,590 L705,590 Z" fill="#3E3E44"/>
  <path d="M746.5,541.3 L772.6,536 L797.2,529 L797.2,578 L780,581.5 L760,585 L748,583 Z" fill="#66686C"/>
  <path d="M771,530 L797.2,526 L798,578 L781,582 L783,540 Z" fill="#95979B"/>
  <path d="M741,528 L771,522 L797.2,525 L797.2,530 L774,541.5 L746.5,552 L741,548 Z" fill="#E2E7EE"/>
  <path d="M746,546 L772,537 L772,540 L746.5,550.5 Z" fill="#B8C4D2"/>
  <rect x="761.8" y="516" width="19" height="16" fill="#2C3440"/>
  <rect x="763" y="517.2" width="16.6" height="12.5" fill="#2A62B8"/>
  <rect x="768" y="521" width="7" height="5" fill="#DDE6F2"/>
  <rect x="744.8" y="515.5" width="8.5" height="12" fill="#E8EBEF" stroke="#555" stroke-width="0.5"/>
  <path d="M743.4,556.7 L770.3,523.6" stroke="#7A5A48" stroke-width="1.6"/>
</g>
<circle cx="777.2" cy="516.3" r="68" fill="none" stroke="#1B8FD2" stroke-width="4.4"/>
<!-- screen -->
<g>
  <rect x="649.2" y="496.8" width="94.8" height="63.6" fill="#C4C6C8" stroke="#8F9194" stroke-width="0.6"/>
  <rect x="649.2" y="496.8" width="94.8" height="1.2" fill="#555"/>
  <rect x="650.8" y="499" width="91.6" height="59.8" fill="url(#scrG)"/>
  <rect x="657.3" y="499" width="18.2" height="3.3" fill="#F4F4F4"/>
  <rect x="658" y="499.6" width="9" height="2" fill="#D03030"/>
  <rect x="674" y="513.2" width="30" height="1" fill="#9EB8E0"/>
  <rect x="676.4" y="518.2" width="41" height="19.1" fill="#F0F2F4"/>
  <rect x="676.4" y="518.2" width="41" height="3" fill="#D8DDE3"/>
  <rect x="678" y="524" width="8" height="1.5" fill="#5A6A80"/>
  <rect x="688" y="524" width="20" height="1.5" fill="#C8D0DA"/>
  <rect x="678" y="528" width="8" height="1.5" fill="#5A6A80"/>
  <rect x="688" y="528" width="20" height="1.5" fill="#C8D0DA"/>
  <rect x="702" y="533" width="12" height="2.4" rx="1" fill="#3A8AD8"/>
  <rect x="722.7" y="517.3" width="18.2" height="31.7" fill="#184A90" stroke="#5A80C0" stroke-width="0.5"/>
  <g fill="#E0E8F4"><rect x="724.5" y="521" width="8" height="1"/><rect x="724.5" y="523.5" width="11" height="1"/><rect x="724.5" y="526" width="9" height="1"/><rect x="724.5" y="528.5" width="7" height="1"/><rect x="724.5" y="531" width="8" height="1"/></g>
  <rect x="656.3" y="525.9" width="7.4" height="5.3" fill="#B8BEC6"/>
  <rect x="662.4" y="529.3" width="15" height="11.3" fill="#C8CCD2"/>
  <rect x="664" y="533" width="9" height="6" fill="#4A5468"/>
  <rect x="668" y="531" width="6" height="3" fill="#F0F2F4"/>
  <rect x="650.5" y="536.3" width="4.5" height="9" fill="#B4BCC8"/>
  <rect x="651.5" y="540" width="3" height="4" fill="#3A4458"/>
  <rect x="684" y="551" width="2.5" height="3" fill="#E8C040"/>
  <rect x="690" y="550.5" width="3" height="3.5" fill="#E8ECF0"/>
</g>
<!-- phone -->
<defs>
  <clipPath id="phClip"><rect x="861.6" y="548.6" width="23.6" height="53" rx="2.2"/></clipPath>
  <linearGradient id="phRed" x1="0" y1="0" x2="0" y2="1"><stop offset="0" stop-color="#E01850"/><stop offset="0.6" stop-color="#D81C6A"/><stop offset="1" stop-color="#E83848"/></linearGradient>
  <linearGradient id="phBlue" x1="0" y1="0" x2="0" y2="1"><stop offset="0" stop-color="#1A3898"/><stop offset="1" stop-color="#5070C0"/></linearGradient>
  <radialGradient id="phOr" cx="0.5" cy="0.5" r="0.5"><stop offset="0" stop-color="#F05A38"/><stop offset="1" stop-color="#F07858" stop-opacity="0"/></radialGradient>
</defs>
<g>
  <rect x="860.4" y="547.4" width="26" height="55.4" rx="3" fill="#3A3436"/>
  <g clip-path="url(#phClip)">
    <rect x="861.6" y="548.6" width="23.6" height="53" fill="#ECEAEE"/>
    <path d="M861.6,548.6 L874,548.6 Q872,566 868,578 Q865,586 861.6,590 Z" fill="url(#phRed)"/>
    <path d="M874,548.6 L885.2,548.6 L885.2,584 Q880,572 876,566 Q873.5,560 874,548.6 Z" fill="url(#phBlue)"/>
    <ellipse cx="881" cy="594" rx="9" ry="10" fill="url(#phOr)"/>
    <ellipse cx="866" cy="586" rx="5" ry="6" fill="url(#phOr)" opacity="0.6"/>
  </g>
  <rect x="868" y="548.6" width="11" height="1.8" rx="0.8" fill="#222"/>
  <rect x="863.5" y="553" width="3.5" height="3.5" rx="0.8" fill="#E8E4F0"/>
  <rect x="868.8" y="553" width="3.5" height="3.5" rx="0.8" fill="#F4D8E8"/>
  <rect x="874.2" y="553" width="3.5" height="3.5" rx="0.8" fill="#8AA060"/>
  <rect x="879.5" y="553" width="3.5" height="3.5" rx="0.8" fill="#505868"/>
  <rect x="863.5" y="559.5" width="3.5" height="3.5" rx="0.8" fill="#E8C8A0"/>
  <rect x="868.8" y="559.5" width="3.5" height="3.5" rx="0.8" fill="#F4F0F4"/>
  <rect x="874.2" y="559.5" width="3.5" height="3.5" rx="0.8" fill="#4A90D8"/>
  <rect x="879.5" y="559.5" width="3.5" height="3.5" rx="0.8" fill="#E8C070"/>
  <rect x="863.5" y="566" width="3.5" height="3.5" rx="0.8" fill="#F8F0F0"/>
  <rect x="868.8" y="566" width="3.5" height="3.5" rx="0.8" fill="#302830"/>
  <rect x="874.2" y="566" width="3.5" height="3.5" rx="0.8" fill="#F0F2F6"/>
  <rect x="879.5" y="566" width="3.5" height="3.5" rx="0.8" fill="#60B8D0"/>
  <rect x="863.5" y="572.5" width="3.5" height="3.5" rx="0.8" fill="#7090D8"/>
  <rect x="868.8" y="572.5" width="3.5" height="3.5" rx="0.8" fill="#E080C0"/>
  <rect x="874.2" y="572.5" width="3.5" height="3.5" rx="0.8" fill="#F0A848"/>
  <rect x="879.5" y="572.5" width="3.5" height="3.5" rx="0.8" fill="#F4F4F4"/>
  <rect x="863.5" y="579" width="3.5" height="3.5" rx="0.8" fill="#3A3030"/>
  <rect x="868.8" y="579" width="3.5" height="3.5" rx="0.8" fill="#707070"/>
  <rect x="874.2" y="579" width="3.5" height="3.5" rx="0.8" fill="#4A6A90"/>
  <rect x="863.5" y="595.5" width="3.5" height="3.5" rx="0.8" fill="#4CC64C"/><rect x="868.8" y="595.5" width="3.5" height="3.5" rx="0.8" fill="#3A8AE0"/><rect x="874.2" y="595.5" width="3.5" height="3.5" rx="0.8" fill="#5AD05A"/><rect x="879.5" y="595.5" width="3.5" height="3.5" rx="0.8" fill="#F4F4F4"/>
</g>
<text x="873.4" y="625" font-size="12" text-anchor="middle" fill="#111">APP</text>
<polygon points="785.3,616.1 769.2,624.1 769.2,668.1 785.3,660.1" fill="#EAC57A"/>
<polygon points="809.4,644.3 799.7,648.3 799.7,692.3 809.4,688.3" fill="#EAC57A"/>
<polygon points="836.1,689.1 857.7,678.7 857.7,723.2 836.1,733.6" fill="#EAC57A"/>
<polygon points="678.6,637.4 753.5,679.3 753.5,721.8 678.6,680.0" fill="#F6E0B6"/>
<polygon points="736.0,677.6 753.5,679.3 753.5,699.3 736.0,697.0" fill="#E6BE70"/>
<polygon points="732.5,690.2 786.3,719.8 786.3,764.3 732.5,732.5" fill="#F6E0B6"/>
<polygon points="786.3,719.8 804.8,708.2 804.8,753.3 786.3,764.3" fill="#EAC57A"/>
<polygon points="804.8,708.2 816.4,716.3 816.4,761.4 804.8,753.3" fill="#F6E0B6"/>
<polygon points="816.4,716.3 851.1,697.2 851.1,741.2 816.4,761.4" fill="#EAC57A"/>
<polyline points="678.6,678.4 732.5,708.5" fill="none" stroke="#C3B293" stroke-width="2.6"/>
<polyline points="732.5,731.2 786.3,762.8 804.8,752.0 816.4,760.0999999999999 851.1,739.9000000000001" fill="none" stroke="#C3B293" stroke-width="2.6"/>

<polygon points="682.3,653.2 696.9,661.4 696.9,666.0 682.3,657.8" fill="#8EA7BE"/>
<line x1="689.6" y1="657.7" x2="689.6" y2="661.5" stroke="#C8D6E2" stroke-width="0.5"/>
<polygon points="699.0,663.1 730.4,680.7 730.4,685.3 699.0,667.7" fill="#8EA7BE"/>
<line x1="704.2" y1="666.4" x2="704.2" y2="670.2" stroke="#C8D6E2" stroke-width="0.5"/>
<line x1="709.5" y1="669.4" x2="709.5" y2="673.2" stroke="#C8D6E2" stroke-width="0.5"/>
<line x1="714.7" y1="672.3" x2="714.7" y2="676.1" stroke="#C8D6E2" stroke-width="0.5"/>
<line x1="719.9" y1="675.2" x2="719.9" y2="679.0" stroke="#C8D6E2" stroke-width="0.5"/>
<line x1="725.2" y1="678.1" x2="725.2" y2="681.9" stroke="#C8D6E2" stroke-width="0.5"/>
<polygon points="682.3,662.1 696.9,670.3 696.9,674.9 682.3,666.7" fill="#8EA7BE"/>
<line x1="689.6" y1="666.6" x2="689.6" y2="670.4" stroke="#C8D6E2" stroke-width="0.5"/>
<polygon points="699.0,672.0 730.4,689.6 730.4,694.2 699.0,676.6" fill="#8EA7BE"/>
<line x1="704.2" y1="675.3" x2="704.2" y2="679.1" stroke="#C8D6E2" stroke-width="0.5"/>
<line x1="709.5" y1="678.3" x2="709.5" y2="682.1" stroke="#C8D6E2" stroke-width="0.5"/>
<line x1="714.7" y1="681.2" x2="714.7" y2="685.0" stroke="#C8D6E2" stroke-width="0.5"/>
<line x1="719.9" y1="684.1" x2="719.9" y2="687.9" stroke="#C8D6E2" stroke-width="0.5"/>
<line x1="725.2" y1="687.0" x2="725.2" y2="690.8" stroke="#C8D6E2" stroke-width="0.5"/>
<polygon points="682.3,671.0 696.9,679.2 696.9,683.8 682.3,675.6" fill="#8EA7BE"/>
<line x1="689.6" y1="675.5" x2="689.6" y2="679.3" stroke="#C8D6E2" stroke-width="0.5"/>
<polygon points="699.0,680.9 730.4,698.5 730.4,703.1 699.0,685.5" fill="#8EA7BE"/>
<line x1="704.2" y1="684.2" x2="704.2" y2="688.0" stroke="#C8D6E2" stroke-width="0.5"/>
<line x1="709.5" y1="687.2" x2="709.5" y2="691.0" stroke="#C8D6E2" stroke-width="0.5"/>
<line x1="714.7" y1="690.1" x2="714.7" y2="693.9" stroke="#C8D6E2" stroke-width="0.5"/>
<line x1="719.9" y1="693.0" x2="719.9" y2="696.8" stroke="#C8D6E2" stroke-width="0.5"/>
<line x1="725.2" y1="695.9" x2="725.2" y2="699.7" stroke="#C8D6E2" stroke-width="0.5"/>
<polygon points="735.4,704.1 749.9,712.1 749.9,716.9 735.4,708.9" fill="#8EA7BE"/>
<line x1="742.6" y1="708.5" x2="742.6" y2="712.5" stroke="#C8D6E2" stroke-width="0.5"/>
<polygon points="752.2,712.8 782.9,729.7 782.9,734.5 752.2,717.6" fill="#8EA7BE"/>
<line x1="757.3" y1="716.0" x2="757.3" y2="720.0" stroke="#C8D6E2" stroke-width="0.5"/>
<line x1="762.4" y1="718.8" x2="762.4" y2="722.8" stroke="#C8D6E2" stroke-width="0.5"/>
<line x1="767.5" y1="721.6" x2="767.5" y2="725.6" stroke="#C8D6E2" stroke-width="0.5"/>
<line x1="772.7" y1="724.5" x2="772.7" y2="728.5" stroke="#C8D6E2" stroke-width="0.5"/>
<line x1="777.8" y1="727.3" x2="777.8" y2="731.3" stroke="#C8D6E2" stroke-width="0.5"/>
<polygon points="735.4,713.3 749.9,721.3 749.9,726.1 735.4,718.1" fill="#8EA7BE"/>
<line x1="742.6" y1="717.7" x2="742.6" y2="721.7" stroke="#C8D6E2" stroke-width="0.5"/>
<polygon points="752.2,722.0 782.9,738.9 782.9,743.7 752.2,726.8" fill="#8EA7BE"/>
<line x1="757.3" y1="725.2" x2="757.3" y2="729.2" stroke="#C8D6E2" stroke-width="0.5"/>
<line x1="762.4" y1="728.0" x2="762.4" y2="732.0" stroke="#C8D6E2" stroke-width="0.5"/>
<line x1="767.5" y1="730.8" x2="767.5" y2="734.8" stroke="#C8D6E2" stroke-width="0.5"/>
<line x1="772.7" y1="733.7" x2="772.7" y2="737.7" stroke="#C8D6E2" stroke-width="0.5"/>
<line x1="777.8" y1="736.5" x2="777.8" y2="740.5" stroke="#C8D6E2" stroke-width="0.5"/>
<polygon points="735.4,722.5 749.9,730.5 749.9,735.3 735.4,727.3" fill="#8EA7BE"/>
<line x1="742.6" y1="726.9" x2="742.6" y2="730.9" stroke="#C8D6E2" stroke-width="0.5"/>
<polygon points="752.2,731.2 782.9,748.1 782.9,752.9 752.2,736.0" fill="#8EA7BE"/>
<line x1="757.3" y1="734.4" x2="757.3" y2="738.4" stroke="#C8D6E2" stroke-width="0.5"/>
<line x1="762.4" y1="737.2" x2="762.4" y2="741.2" stroke="#C8D6E2" stroke-width="0.5"/>
<line x1="767.5" y1="740.0" x2="767.5" y2="744.0" stroke="#C8D6E2" stroke-width="0.5"/>
<line x1="772.7" y1="742.9" x2="772.7" y2="746.9" stroke="#C8D6E2" stroke-width="0.5"/>
<line x1="777.8" y1="745.7" x2="777.8" y2="749.7" stroke="#C8D6E2" stroke-width="0.5"/>
<polygon points="788.1,728.4 801.9,719.8 801.9,724.0 788.1,732.6" fill="#8EA7BE"/>
<line x1="795.0" y1="724.5" x2="795.0" y2="727.9" stroke="#C8D6E2" stroke-width="0.5"/>
<polygon points="788.1,737.9 801.9,729.3 801.9,733.5 788.1,742.1" fill="#8EA7BE"/>
<line x1="795.0" y1="734.0" x2="795.0" y2="737.4" stroke="#C8D6E2" stroke-width="0.5"/>
<polygon points="788.1,747.4 801.9,738.8 801.9,743.0 788.1,751.6" fill="#8EA7BE"/>
<line x1="795.0" y1="743.5" x2="795.0" y2="746.9" stroke="#C8D6E2" stroke-width="0.5"/>
<polygon points="824.5,717.4 846.5,705.3 846.5,729.6 824.5,741.7" fill="#A9C3D8" stroke="#8FA9BF" stroke-width="0.6"/>
<line x1="831.8" y1="713.4" x2="831.8" y2="737.7" stroke="#EEF3F7" stroke-width="0.7"/>
<line x1="839.2" y1="709.3" x2="839.2" y2="733.6" stroke="#EEF3F7" stroke-width="0.7"/>
<line x1="824.5" y1="725.5" x2="846.5" y2="713.4" stroke="#EEF3F7" stroke-width="0.6"/>
<line x1="824.5" y1="733.6" x2="846.5" y2="721.5" stroke="#EEF3F7" stroke-width="0.6"/>
<polygon points="829.1,742.2 843.6,734.2 843.6,737.4 829.1,745.4" fill="#8EA7BE"/>
<line x1="836.4" y1="738.6" x2="836.4" y2="741.0" stroke="#C8D6E2" stroke-width="0.5"/>
<polygon points="750.3,596.0 785.3,616.1 769.2,624.1 809.4,644.3 799.7,648.3 857.7,678.7 836.1,689.1 851.1,697.2 816.4,716.3 804.8,708.2 786.3,719.8 732.5,690.2 753.5,679.3 678.6,637.4" fill="#C3B293"/>
<polygon points="750.3,598.2 781.3,616.0 764.9,624.1 804.8,644.1 795.2,648.1 853.5,678.6 831.9,689.0 847.1,697.2 816.5,714.1 804.9,705.9 786.2,717.6 736.5,690.2 757.5,679.4 682.4,637.4" fill="#D2C4A8"/>
<polygon points="750.3,599.5 778.9,615.9 762.5,624.1 802.2,644.0 792.6,648.0 851.0,678.6 829.5,688.9 844.8,697.2 816.6,712.8 804.9,704.6 786.2,716.3 738.9,690.3 759.8,679.4 684.7,637.4" fill="#E7E7E9"/>
<polygon points="711.0,631.8 722.0,620.3 769.0,642.8 750.2,655.3" fill="#F8DFAE"/>
<polygon points="760.0,638.8 769.0,642.8 750.2,655.3" fill="#F0C675"/>
<line x1="711.0" y1="631.8" x2="750.2" y2="655.3" stroke="#D9B777" stroke-width="0.6"/>
<polygon points="770.9,667.2 782.4,656.3 830.1,679.3 810.6,690.2" fill="#F8DFAE"/>
<polygon points="821.1,675.3 830.1,679.3 810.6,690.2" fill="#F0C675"/>
<line x1="770.9" y1="667.2" x2="810.6" y2="690.2" stroke="#D9B777" stroke-width="0.6"/>
<polygon points="738.5,611.0 742.0,609.5 742.0,614.5 738.5,616.0" fill="#6F7378"/>
<polygon points="742.0,609.5 748.8,612.5 745.0,616.4 742.0,614.5" fill="#F4F4F4" stroke="#B0B0B0" stroke-width="0.4"/>
<polygon points="748.8,617.6 752.0,616.1 752.0,621.0 748.8,622.7" fill="#5E7890"/>
<polygon points="752.0,616.1 759.5,619.0 755.5,622.7 752.0,621.0" fill="#F4F4F4" stroke="#B0B0B0" stroke-width="0.4"/>
<path d="M759.3,582.5 L751.6,620.2 L777.6,585" fill="none" stroke="#1B8FD2" stroke-width="2.4" stroke-linejoin="miter"/>
<polyline points="857.7,721.3 851.6,724.4" fill="none" stroke="#C3B293" stroke-width="2.6"/>
<text x="665.5" y="788.5" font-size="14.5" fill="#111">Intelligent management system</text><g font-size="11" fill="#222">
  <text x="128.7" y="824.4">(<tspan dx="2.6">M&#8722;bus/Rs485</tspan><tspan dx="2.6">)</tspan></text>
  <text x="387.9" y="797.4">(<tspan dx="2.6">M&#8722;bus/Rs485</tspan><tspan dx="2.6">)</tspan></text>
  <text x="1012.9" y="847.8">(<tspan dx="2.6">M&#8722;bus/Rs485</tspan><tspan dx="2.6">)</tspan></text>
</g>
</svg>
</body></html>
